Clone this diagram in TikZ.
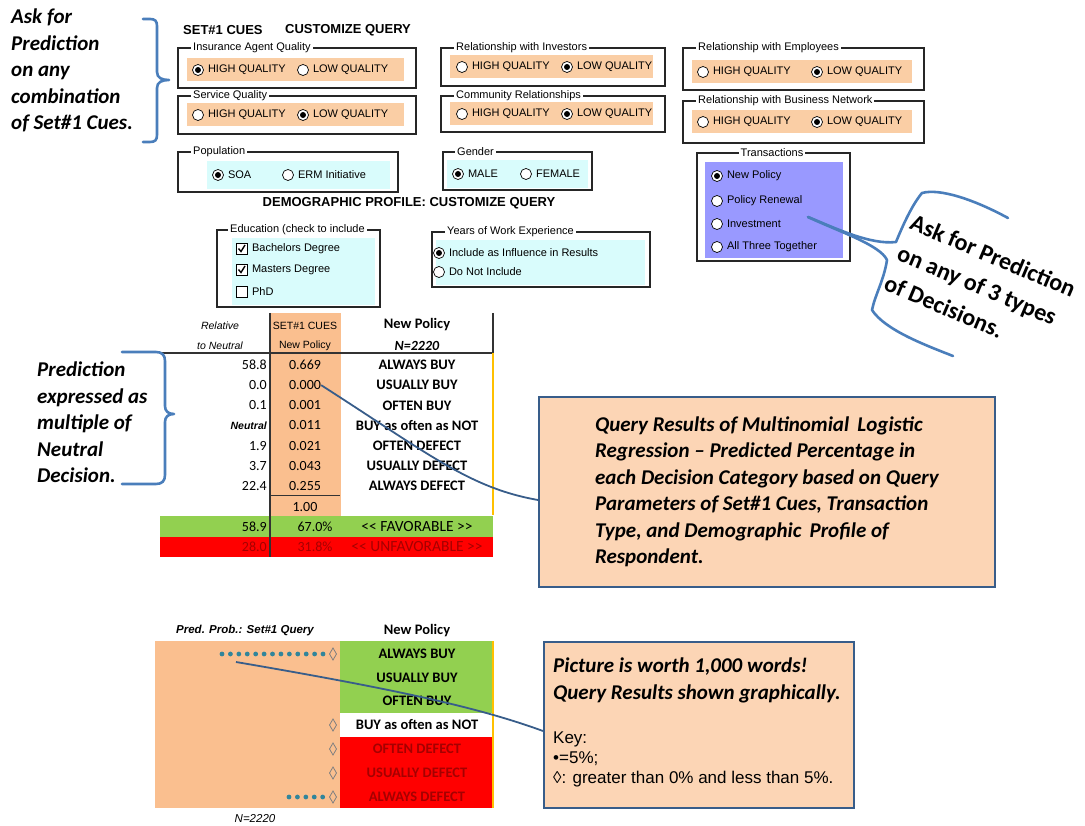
\documentclass[tikz,border=0pt]{standalone}
\usepackage{fontspec}
\setmainfont{Carlito}
\newfontfamily\uifont{Liberation Sans}
\usetikzlibrary{positioning,calc}

\definecolor{bracecol}{RGB}{74,126,187}
\definecolor{linecol}{RGB}{56,93,138}
\definecolor{notefill}{RGB}{252,213,181}
\definecolor{cuepeach}{RGB}{250,191,143}
\definecolor{optpeach}{RGB}{250,206,165}
\definecolor{optcyan}{RGB}{217,252,252}
\definecolor{optlav}{RGB}{153,153,255}
\definecolor{xlgreen}{RGB}{146,208,80}
\definecolor{xlred}{RGB}{255,0,0}
\definecolor{xldarkred}{RGB}{165,0,0}
\definecolor{xlyellow}{RGB}{255,192,0}
\definecolor{dotcol}{RGB}{49,133,155}

\tikzset{
  frame/.style={draw=black!85, line width=1.1pt},
  gtitle/.style={fill=white, inner xsep=2pt, inner ysep=0pt, anchor=west, font=\uifont\fontsize{11}{13}\selectfont},
  radio/.style={circle, draw=black, fill=white, line width=0.7pt, minimum size=11pt, inner sep=0pt},
  radioon/.style={radio, path picture={\fill[black] (path picture bounding box.center) circle (3pt);}},
  optlabel/.style={inner sep=1pt, anchor=west, font=\uifont\fontsize{11}{13}\selectfont},
  checkbox/.style={draw=black, fill=white, line width=0.7pt, minimum size=11pt, inner sep=0pt},
  checkon/.style={checkbox, path picture={\draw[line width=1.4pt] ([xshift=-3.5pt,yshift=0.5pt]path picture bounding box.center) -- ++(2.5pt,-3pt) -- ++(4pt,6.5pt);}},
  heading/.style={font=\uifont\bfseries\fontsize{13}{15}\selectfont, inner sep=0pt},
  note/.style={font=\bfseries\itshape\fontsize{21}{26.5}\selectfont, align=left, inner sep=0pt},
  curly/.style={draw=bracecol, line width=2.6pt, line join=round, line cap=round},
  callout/.style={draw=linecol, line width=1.8pt},
  notebox/.style={draw=linecol, fill=notefill, line width=2pt},
  tabnum/.style={font=\fontsize{14}{16}\selectfont, inner sep=0pt},
  tablab/.style={font=\bfseries\fontsize{14.5}{16}\selectfont, inner sep=0pt},
  tabsmall/.style={font=\uifont\fontsize{10.5}{12}\selectfont, inner sep=0pt},
}

\begin{document}
\begin{tikzpicture}[x=1pt, y=-1pt]
\useasboundingbox (0,0) rectangle (1085,826);

% set#1 cues
\node[heading, anchor=west] (setcues) at (183,30) {SET\#1 CUES};
\node[heading, anchor=west] (custq) at (285,30) {CUSTOMIZE QUERY};

\foreach \nm/\ttl/\xa/\ya/\xb/\yb/\ry/\hx/\lx/\hs/\ls in {
  agent/Insurance Agent Quality/178/48/416/88/70/198/303/radioon/radio,
  service/Service Quality/178/96/416/134/115/198/303/radio/radioon,
  investors/Relationship with Investors/441/48/665/86/67/462/567/radio/radioon,
  community/Community Relationships/441/96/665/132/114/462/567/radio/radioon,
  employees/Relationship with Employees/683/48/924/90/72/703/817/radio/radioon,
  network/Relationship with Business Network/683/101/924/143/122/703/817/radio/radioon}
{
  \fill[optpeach] (\xa+9,\ry-12) rectangle (\xb-12,\ry+11);
  \draw[frame] (\xa,\ya) rectangle (\xb,\yb);
  \node[gtitle] (\nm) at (\xa+13,\ya) {\ttl};
  \node[\hs] (\nm-hi) at (\hx,\ry) {};
  \node[optlabel, right=3pt of \nm-hi] (\nm-hitxt) {HIGH QUALITY};
  \node[\ls] (\nm-lo) at (\lx,\ry) {};
  \node[optlabel, right=3pt of \nm-lo] (\nm-lotxt) {LOW QUALITY};
}

% demographic profile
\fill[optcyan] (207,161) rectangle (390,189);
\draw[frame] (178,152) rectangle (398,192);
\node[gtitle] (population) at (191,152) {Population};
\node[radioon] (soa) at (218,175) {};
\node[optlabel, right=3pt of soa] (soatxt) {SOA};
\node[radio] (erm) at (288,175) {};
\node[optlabel, right=3pt of erm] (ermtxt) {ERM Initiative};

\fill[optcyan] (447,160) rectangle (588,188);
\draw[frame] (443,152) rectangle (592,190);
\node[gtitle] (gender) at (455,152) {Gender};
\node[radioon] (male) at (458,174) {};
\node[optlabel, right=3pt of male] (maletxt) {MALE};
\node[radio] (female) at (526,174) {};
\node[optlabel, right=3pt of female] (femaletxt) {FEMALE};

\node[heading] (demog) at (409,203) {DEMOGRAPHIC PROFILE: CUSTOMIZE QUERY};

\fill[optcyan] (232,238) rectangle (375,305);
\draw[frame] (217,230) rectangle (380,307);
\node[gtitle] (education) at (228,230) {Education (check to include};
\node[checkon] (bach) at (242,249) {};
\node[optlabel, right=3pt of bach] (bachtxt) {Bachelors Degree};
\node[checkon] (mast) at (242,270) {};
\node[optlabel, right=3pt of mast] (masttxt) {Masters Degree};
\node[checkbox] (phd) at (242,292) {};
\node[optlabel, right=3pt of phd] (phdtxt) {PhD};

\fill[optcyan] (436,240) rectangle (645,285);
\draw[frame] (432,232) rectangle (650,287);
\node[gtitle] (years) at (445,232) {Years of Work Experience};
\node[radioon] (incl) at (439,253) {};
\node[optlabel, right=3pt of incl] (incltxt) {Include as Influence in Results};
\node[radio] (noincl) at (439,272) {};
\node[optlabel, right=3pt of noincl] (noincltxt) {Do Not Include};

% transactions
\fill[optlav] (705,162) rectangle (843,258);
\draw[frame] (697,153) rectangle (850,261);
\node[gtitle, anchor=center] (trans) at (772,153) {Transactions};
\foreach \opt/\yy/\st [count=\i] in {New Policy/176/radioon, Policy Renewal/201/radio, Investment/224/radio, All Three Together/247/radio} {
  \node[\st] (tr\i) at (717,\yy) {};
  \node[optlabel, right=3pt of tr\i] (trtxt\i) {\opt};
}

% results table
\fill[cuepeach] (271,313) rectangle (341,516);
\node[tabsmall, font=\uifont\itshape\fontsize{10.5}{12}\selectfont] (hdrA) at (220,326) {Relative};
\node[tabsmall, font=\uifont\itshape\fontsize{10.5}{12}\selectfont] (hdrB) at (220,346) {to Neutral};
\node[tabsmall] (hdrC) at (305,326) {SET\#1 CUES};
\node[tabsmall] (hdrD) at (305,346) {New Policy};
\node[tablab] (hdrE) at (417,325) {New Policy};
\node[tablab, font=\bfseries\itshape\fontsize{14}{16}\selectfont] (hdrF) at (417,346) {N=2220};
\draw[line width=1.2pt, black!80] (160,353) -- (493,353);
\draw[line width=1.2pt, black!80] (493,313) -- (493,353);
\draw[line width=1.5pt, xlyellow] (493,353) -- (493,515);

\foreach \rel/\val/\lab [count=\i] in {58.8/0.669/ALWAYS BUY, 0.0/0.000/USUALLY BUY, 0.1/0.001/OFTEN BUY,
  {\uifont\bfseries\itshape\fontsize{10.5}{12}\selectfont Neutral}/0.011/BUY as often as NOT,
  1.9/0.021/OFTEN DEFECT, 3.7/0.043/USUALLY DEFECT, 22.4/0.255/ALWAYS DEFECT} {
  \node[tabnum, anchor=east] (rel\i) at (267,344.8+20.17*\i) {\rel};
  \node[tabnum] (val\i) at (305,344.8+20.17*\i) {\val};
  \node[tablab] (lab\i) at (417,344.8+20.17*\i) {\lab};
}
\draw[line width=1pt, black!80] (270,495) -- (340,495);
\node[tabnum] (total) at (305,507) {1.00};

\fill[xlgreen] (160,516) rectangle (493,537);
\fill[xlred] (160,537) rectangle (493,557);
\node[tabnum, anchor=east] (favA) at (267,527) {58.9};
\node[tabnum] (favB) at (315,527) {67.0\%};
\node[tabnum, font=\fontsize{15.5}{17}\selectfont] (favC) at (417,527) {<{}< FAVORABLE >{}>};
\node[tabnum, text=xldarkred, anchor=east] (unfA) at (267,547) {28.0};
\node[tabnum, text=xldarkred] (unfB) at (315,547) {31.8\%};
\node[tabnum, font=\fontsize{15.5}{17}\selectfont, text=xldarkred] (unfC) at (417,547) {<{}< UNFAVORABLE >{}>};
\draw[line width=1.2pt, black!80] (270,313) -- (270,557);

% graph of the query
\node[tabsmall, font=\uifont\bfseries\itshape\fontsize{11.5}{13}\selectfont] (predhdr) at (245,631) {Pred. Prob.: Set\#1 Query};
\node[tablab] (graphhdr) at (417,631) {New Policy};
\fill[cuepeach] (155,641) rectangle (340,808);
\fill[xlgreen] (340,641) rectangle (493,713);
\fill[xlred] (340,737) rectangle (493,808);
\draw[line width=1.5pt, xlyellow] (493,641) -- (493,808);
\foreach \lab/\yy/\cl [count=\i] in {ALWAYS BUY/654/black, USUALLY BUY/678/black, OFTEN BUY/701/black,
  BUY as often as NOT/725/black, OFTEN DEFECT/749/xldarkred, USUALLY DEFECT/773/xldarkred, ALWAYS DEFECT/797/xldarkred}
  \node[tablab, text=\cl] (g\i) at (417,\yy) {\lab};
\foreach \k in {0,...,12} \fill[dotcol] (222+8.42*\k,654) circle (2.4);
\foreach \k in {0,...,4} \fill[dotcol] (289+8.42*\k,797) circle (2.4);
\foreach \yy in {654,725,749,773,797}
  \draw[gray, line width=0.8pt] (333,\yy-6) -- (336.5,\yy) -- (333,\yy+6) -- (329.5,\yy) -- cycle;
\node[tabsmall, font=\uifont\itshape\fontsize{11.5}{13}\selectfont] (graphn) at (255,819) {N=2220};

% notes
\node[note, anchor=north west] (cuenote) at (11,9) {Ask for\\Prediction\\on any\\combination\\of Set\#1 Cues.};
\draw[curly] (143,19) -- (150,19) .. controls (155,19) and (157,21) .. (157,26) -- (157,72)
  .. controls (157,78) and (162,80) .. (169,80) .. controls (162,80) and (157,82) .. (157,88)
  -- (157,135) .. controls (157,140) and (155,142) .. (150,142) -- (143,142);

\node[note, anchor=north west] (prednote) at (37,362) {Prediction\\expressed as\\multiple of\\Neutral\\Decision.};
\draw[curly] (122,352) -- (156,352) .. controls (162,352) and (165,355) .. (165,361) -- (165,406)
  .. controls (165,411) and (168,414) .. (174,414) .. controls (168,414) and (165,417) .. (165,422)
  -- (165,475) .. controls (165,481) and (162,484) .. (156,484) -- (122,484);

\node[note, font=\bfseries\fontsize{24}{33}\selectfont, rotate=-23, anchor=north west] (decnote) at (915,213) {Ask for Prediction\\on any of 3 types\\of Decisions.};
\draw[curly] (1008,218) .. controls (975,200) and (940,188) .. (922,193) .. controls (912,205) and (903,225) .. (896,242)
  .. controls (870,245) and (835,228) .. (808,217);
\draw[curly] (808,217) .. controls (840,232) and (880,245) .. (887,260) .. controls (884,280) and (875,295) .. (872,310)
  .. controls (885,330) and (925,345) .. (953,356);

\node[notebox, note, minimum width=456pt, minimum height=190pt] (resbox) at (767,492)
  {Query Results of Multinomial\, Logistic\\Regression – Predicted Percentage in\\each Decision Category based on Query\\Parameters of Set\#1 Cues, Transaction\\Type, and Demographic\, Profile of\\Respondent.};
\draw[callout] (val2.east) .. controls (430,455) and (470,488) .. ([yshift=-8pt]resbox.west);

\node[notebox, minimum width=310pt, minimum height=166pt, anchor=north west] (keybox) at (543,641) {};
\node[note, anchor=north west] (keyhead) at (553,658) {Picture is worth 1,000 words!\\Query Results shown graphically.};
\node[anchor=north west, align=left, inner sep=0pt, font=\uifont\fontsize{17}{20}\selectfont] (keylist) at (553,732)
  {Key:\\•=5\%;\\◊: greater than 0\% and less than 5\%.};
\coordinate (dotpick) at (236,662);
\draw[callout] (dotpick) .. controls (400,690) and (480,708) .. ([yshift=-6pt]keybox.west);
\end{tikzpicture}
\end{document}
